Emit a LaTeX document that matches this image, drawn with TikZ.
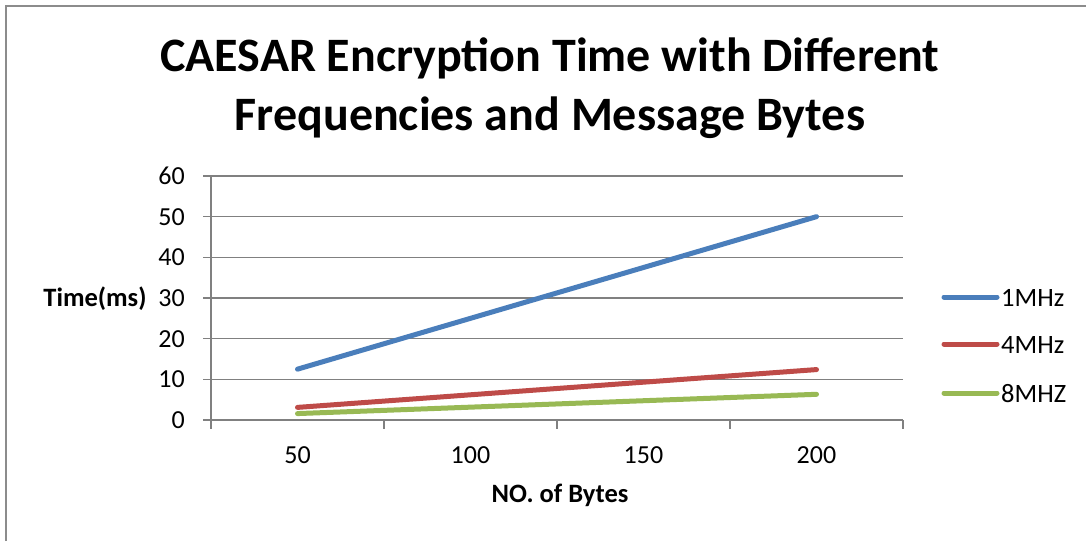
\documentclass[tikz,border=0pt]{standalone}
\usepackage{fontspec}
\setmainfont{Carlito}
\begin{document}
\begin{tikzpicture}[x=1pt,y=-1pt,
  frame/.style={draw=black!45,line width=2pt},
  grid/.style={draw=black!50,line width=1.3pt},
  tick/.style={font=\fontsize{26}{30}\selectfont,inner sep=0pt},
  ttl/.style={font=\fontsize{48}{59}\selectfont\bfseries,align=center,inner sep=0pt},
  albl/.style={font=\fontsize{26.5}{30}\selectfont\bfseries,inner sep=0pt},
  ser/.style={line width=5pt,line cap=round},
  leg/.style={font=\fontsize{26.5}{30}\selectfont,inner sep=0pt,anchor=west}]
\definecolor{cblue}{RGB}{74,126,187}
\definecolor{cred}{RGB}{190,75,72}
\definecolor{cgreen}{RGB}{152,185,84}
\useasboundingbox (0,0) rectangle (1086,541);
\fill[white] (0,0) rectangle (1086,541);
% frame
\coordinate (fbl) at (5.5,541);
\coordinate (ftl) at (5.5,5.5);
\coordinate (ftr) at (1086,5.5);
\draw[frame] (fbl) -- (ftl) -- (ftr);
% title
\node[ttl] (title) at (550,88) {CAESAR Encryption Time with Different\\Frequencies and Message Bytes};
% gridlines and y labels
\foreach \v in {0,10,...,60}{
  \coordinate (gl\v) at (203,{420-4.067*\v});
  \coordinate (gr\v) at (903,{420-4.067*\v});
  \draw[grid] (gl\v) -- (gr\v);
  \node[tick,anchor=east] (yl\v) at (185,{420-4.067*\v}) {\v};
}
% y axis
\coordinate (ya) at (211,176);
\coordinate (yb) at (211,420);
\draw[grid] (ya) -- (yb);
% x ticks
\foreach \i in {0,...,4}{
  \coordinate (xt\i) at ({211+173*\i},420);
  \coordinate (xb\i) at ({211+173*\i},429);
  \draw[grid] (xt\i) -- (xb\i);
}
% x labels
\foreach \lab [count=\i from 0] in {50,100,150,200}{
  \node[tick] (xl\i) at ({297.5+173*\i},455) {\lab};
}
\node[albl] (xtitle) at (560,495) {NO. of Bytes};
\node[albl] (ytitle) at (95,299) {Time(ms)};
% series
\foreach \i in {0,...,3}{
  \coordinate (b\i) at ({297.5+173*\i},{420-4.067*12.5*(\i+1)});
  \coordinate (r\i) at ({297.5+173*\i},{420-4.067*3.1*(\i+1)});
  \coordinate (g\i) at ({297.5+173*\i},{420-4.067*1.58*(\i+1)});
}
\draw[ser,cgreen] (g0) -- (g1) -- (g2) -- (g3);
\draw[ser,cred] (r0) -- (r1) -- (r2) -- (r3);
\draw[ser,cblue] (b0) -- (b1) -- (b2) -- (b3);
% legend
\coordinate (lb1) at (944,297); \coordinate (lb2) at (997,297);
\coordinate (lr1) at (944,344); \coordinate (lr2) at (997,344);
\coordinate (lg1) at (944,393); \coordinate (lg2) at (997,393);
\draw[ser,cblue] (lb1) -- (lb2);
\draw[ser,cred] (lr1) -- (lr2);
\draw[ser,cgreen] (lg1) -- (lg2);
\node[leg] (t1) at (1001,298) {1MHz};
\node[leg] (t4) at (1001,345) {4MHz};
\node[leg] (t8) at (1001,394) {8MHZ};
\end{tikzpicture}
\end{document}
